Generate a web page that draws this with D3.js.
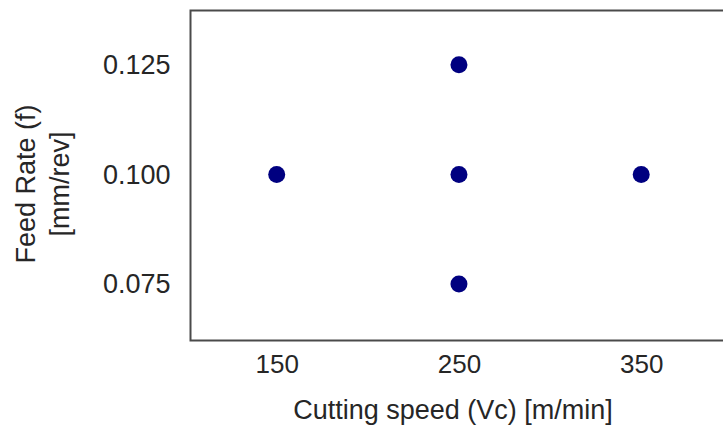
<!DOCTYPE html>
<html>
<head>
<meta charset="utf-8">
<script src="https://cdn.jsdelivr.net/npm/d3@7"></script>
<style>
    body { margin: 0; background: #fff; }
    svg { display: block; font-family: "Liberation Sans", Arial, sans-serif; }
</style>
</head>
<body>
<svg id="chart" width="723" height="429"></svg>
<script>
(function () {

    // cutting speed [m/min] and feed rate [mm/rev] of each run
    var speeds = [150, 250, 250, 250, 350],
        feeds = [0.100, 0.125, 0.100, 0.075, 0.100],
        speedTicks = [150, 250, 350],
        feedTicks = [0.075, 0.100, 0.125];

    var svg = d3.select('#chart'),
        box = { left: 190.5, top: 10.5, right: 740, bottom: 340.5 },
        ink = '#262626';

    var x = d3.scaleLinear()
        .domain([102.7, 404.2])
        .range([box.left, box.right]);

    var y = d3.scaleLinear()
        .domain([0.0621, 0.1374])
        .range([box.bottom, box.top]);

    // frame (right side runs off the picture)
    svg.append('path')
        .attr('d', 'M' + box.right + ',' + box.top + 'H' + box.left +
                   'V' + box.bottom + 'H' + box.right)
        .attr('fill', 'none')
        .attr('stroke', '#4a4a4a')
        .attr('stroke-width', 2);

    var xAxis = svg.append('g')
        .attr('transform', 'translate(0,' + box.bottom + ')')
        .call(d3.axisBottom(x).tickValues(speedTicks).tickSize(0).tickPadding(14.5));

    var yAxis = svg.append('g')
        .attr('transform', 'translate(' + box.left + ',0)')
        .call(d3.axisLeft(y).tickValues(feedTicks).tickSize(0).tickPadding(20)
            .tickFormat(d3.format('.3f')));

    [xAxis, yAxis].forEach(function (ax) {
        ax.select('.domain').remove();
        ax.selectAll('text')
            .attr('fill', ink)
            .style('font-family', '"Liberation Sans", Arial, sans-serif');
    });
    xAxis.selectAll('text').style('font-size', '26px');
    yAxis.selectAll('text').style('font-size', '27px');

    svg.append('g')
        .selectAll('circle')
        .data(speeds)
        .join('circle')
            .attr('cx', function (d) { return x(d); })
            .attr('cy', function (d, i) { return y(feeds[i]); })
            .attr('r', 8.5)
            .attr('fill', '#000080');

    svg.append('text')
        .attr('x', 453)
        .attr('y', 419)
        .attr('text-anchor', 'middle')
        .attr('fill', ink)
        .style('font-size', '27px')
        .text('Cutting speed (Vc) [m/min]');

    var yTitle = ['Feed Rate (f)', '[mm/rev]'];
    svg.append('g')
        .selectAll('text')
        .data(yTitle)
        .join('text')
            .attr('transform', function (d, i) {
                return 'translate(' + (35 + i * 34) + ',184) rotate(-90)';
            })
            .attr('text-anchor', 'middle')
            .attr('fill', ink)
            .style('font-size', '27px')
            .text(function (d) { return d; });

}());
</script>
</body>
</html>
